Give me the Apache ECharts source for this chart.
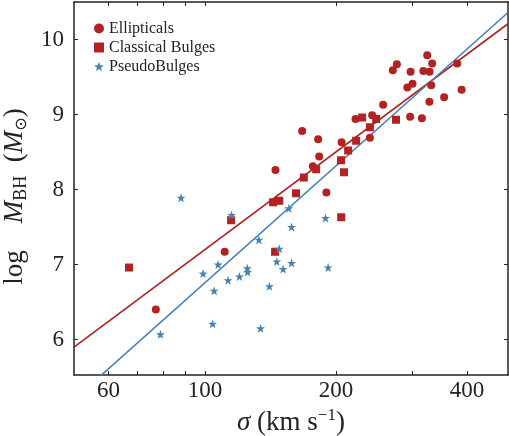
<!DOCTYPE html>
<html>
<head>
<meta charset="utf-8">
<script src="https://cdn.jsdelivr.net/npm/echarts@6/dist/echarts.min.js"></script>
<style>
  html, body { margin: 0; padding: 0; background: #fff; }
  #chart { width: 509px; height: 436px; }
</style>
</head>
<body>
<div id="chart"></div>
<script>
// M-sigma relation: black hole mass vs. bulge velocity dispersion

// Ellipticals
const sigmaEll = [77.1, 111.0, 145.2, 167.2, 182.0, 183.0, 177.0, 190.1, 206.0, 221.8,
                  239.3, 242.2, 256.7, 270.2, 276.0, 291.8, 299.9, 296.1, 296.8, 315.1,
                  317.6, 324.1, 328.2, 332.8, 331.0, 327.9, 354.5, 379.8, 388.8];
const logMEll   = [6.40, 7.17, 8.26, 8.78, 8.67, 8.44, 8.31, 7.96, 8.63, 8.94,
                   8.69, 8.99, 9.13, 9.59, 9.67, 9.36, 9.41, 8.97, 9.57, 8.95,
                   9.58, 9.79, 9.57, 9.68, 9.39, 9.17, 9.23, 9.68, 9.33];

// Classical bulges
const sigmaCls = [66.9, 114.8, 143.4, 148.1, 144.9, 161.9, 168.7, 180.1, 205.4, 208.7,
                  213.3, 222.5, 205.6, 229.7, 239.3, 247.4, 274.8];
const logMCls  = [6.96, 7.59, 7.83, 7.85, 7.17, 7.95, 8.16, 8.27, 8.39, 8.23,
                  8.52, 8.65, 7.63, 8.96, 8.83, 8.94, 8.93];

// Pseudobulges
const sigmaPsd = [88.1, 115.1, 133.0, 155.8, 158.1, 189.2, 107.2, 99.0, 125.1, 125.3,
                  120.0, 113.0, 105.0, 140.6, 148.1, 146.2, 158.1, 151.2, 191.9, 104.1,
                  134.2, 79.0];
const logMPsd  = [7.89, 7.66, 7.33, 7.75, 7.50, 7.62, 7.00, 6.88, 6.95, 6.90,
                  6.84, 6.79, 6.65, 6.71, 7.21, 7.04, 7.02, 6.94, 6.96, 6.21,
                  6.15, 6.07];

// Straight-line fits (ends of each line across the sigma range)
const fitSigma     = [50, 497];
const fitClassical = [5.90, 10.21];   // ellipticals + classical bulges
const fitPseudo    = [5.20, 10.36];   // pseudobulges

// Axis ticks
const sigmaTicks  = [60, 70, 80, 90, 100, 200, 300, 400];
const sigmaLabels = [60, 100, 200, 400];
const logMTicks   = [6, 7, 8, 9, 10];

const SIGMA_MIN = 50, SIGMA_MAX = 497;
const LOGM_MIN = 5.527, LOGM_MAX = 10.5;

const RED = '#b22222';
const BLUE = '#4682b4';
const INK = '#222';
const SERIF = '"Liberation Serif", "DejaVu Serif", serif';
const STAR = 'path://M0,-10L2.35,-3.24L9.51,-3.09L3.8,1.24L5.88,8.09L0,4L-5.88,8.09L-3.8,1.24L-9.51,-3.09L-2.35,-3.24Z';

const lg = Math.log10;
const pts = (xs, ys) => xs.map((s, i) => [lg(s), ys[i]]);

const frameLine = { show: true, onZero: false, lineStyle: { color: INK, width: 1.5 } };
const tickStyle = { show: true, inside: true, length: 4, lineStyle: { color: INK, width: 1 } };
const xTickVals = sigmaTicks.map(lg);
const xLabelVals = sigmaLabels.map(lg);

const TITLE_SIZE = 27;

const chart = echarts.init(document.getElementById('chart'), null, { renderer: 'canvas' });

chart.setOption({
  animation: false,
  backgroundColor: '#fff',
  grid: { left: 74, right: 1, top: 2, bottom: 61, containLabel: false, outerBoundsMode: 'none' },
  legend: {
    orient: 'vertical',
    left: 89,
    top: 14,
    itemGap: 0,
    itemWidth: 10,
    itemHeight: 10,
    textStyle: { fontFamily: SERIF, fontSize: 16, color: INK, lineHeight: 19 },
    data: [
      { name: 'Ellipticals', icon: 'circle' },
      { name: 'Classical Bulges', icon: 'rect' },
      { name: 'PseudoBulges', icon: STAR }
    ]
  },
  xAxis: [
    {
      type: 'value',
      min: lg(SIGMA_MIN), max: lg(SIGMA_MAX),
      position: 'bottom',
      axisLine: frameLine,
      axisTick: Object.assign({}, tickStyle, { customValues: xTickVals }),
      axisLabel: {
        customValues: xLabelVals,
        formatter: v => String(Math.round(Math.pow(10, v))),
        fontFamily: SERIF, fontSize: 23, color: INK, margin: 4
      },
      splitLine: { show: false },
      name: '{i|σ} (km s{sup|−1})',
      nameLocation: 'middle',
      nameGap: 22,
      nameTextStyle: {
        fontFamily: SERIF, fontSize: TITLE_SIZE, color: INK, lineHeight: 32,
        rich: {
          i: { fontFamily: SERIF, fontSize: TITLE_SIZE, fontStyle: 'italic', color: INK, lineHeight: 32 },
          sup: { fontFamily: SERIF, fontSize: 17, color: INK, lineHeight: 14, verticalAlign: 'top' }
        }
      }
    },
    {
      type: 'value',
      min: lg(SIGMA_MIN), max: lg(SIGMA_MAX),
      position: 'top',
      axisLine: frameLine,
      axisTick: Object.assign({}, tickStyle, { customValues: xTickVals }),
      axisLabel: { show: false },
      splitLine: { show: false }
    }
  ],
  yAxis: [
    {
      type: 'value',
      min: LOGM_MIN, max: LOGM_MAX,
      position: 'left',
      axisLine: frameLine,
      axisTick: Object.assign({}, tickStyle, { customValues: logMTicks }),
      axisLabel: {
        customValues: logMTicks,
        formatter: v => String(Math.round(v)),
        fontFamily: SERIF, fontSize: 23, color: INK, margin: 10
      },
      splitLine: { show: false },
      name: 'log    {i|M}{sub|BH}  ({i|M}{sun|⊙})',
      nameLocation: 'middle',
      nameRotate: 90,
      nameGap: 36,
      nameTextStyle: {
        fontFamily: SERIF, fontSize: TITLE_SIZE, color: INK, lineHeight: 30,
        padding: [0, 16, 0, 0],
        rich: {
          i: { fontFamily: SERIF, fontSize: TITLE_SIZE, fontStyle: 'italic', color: INK, lineHeight: 30 },
          sub: { fontFamily: SERIF, fontSize: 18, color: INK, lineHeight: 15, verticalAlign: 'bottom' },
          sun: { fontFamily: '"DejaVu Sans", sans-serif', fontSize: 16, color: INK, lineHeight: 15, verticalAlign: 'bottom' }
        }
      }
    },
    {
      type: 'value',
      min: LOGM_MIN, max: LOGM_MAX,
      position: 'right',
      axisLine: frameLine,
      axisTick: Object.assign({}, tickStyle, { customValues: logMTicks }),
      axisLabel: { show: false },
      splitLine: { show: false }
    }
  ],
  series: [
    {
      name: 'fit-classical', type: 'line', silent: true,
      data: pts(fitSigma, fitClassical),
      symbol: 'none', clip: true,
      lineStyle: { color: RED, width: 1.6 }, z: 2
    },
    {
      name: 'fit-pseudo', type: 'line', silent: true,
      data: pts(fitSigma, fitPseudo),
      symbol: 'none', clip: true,
      lineStyle: { color: BLUE, width: 1.6 }, z: 2
    },
    {
      name: 'Ellipticals', type: 'scatter',
      data: pts(sigmaEll, logMEll),
      symbol: 'circle', symbolSize: 8,
      itemStyle: { color: RED, opacity: 1 }, z: 3
    },
    {
      name: 'Classical Bulges', type: 'scatter',
      data: pts(sigmaCls, logMCls),
      symbol: 'rect', symbolSize: 8,
      itemStyle: { color: RED, opacity: 1 }, z: 3
    },
    {
      name: 'PseudoBulges', type: 'scatter',
      data: pts(sigmaPsd, logMPsd),
      symbol: STAR, symbolSize: 9,
      itemStyle: { color: BLUE, opacity: 1 }, z: 3
    }
  ]
});
</script>
</body>
</html>
